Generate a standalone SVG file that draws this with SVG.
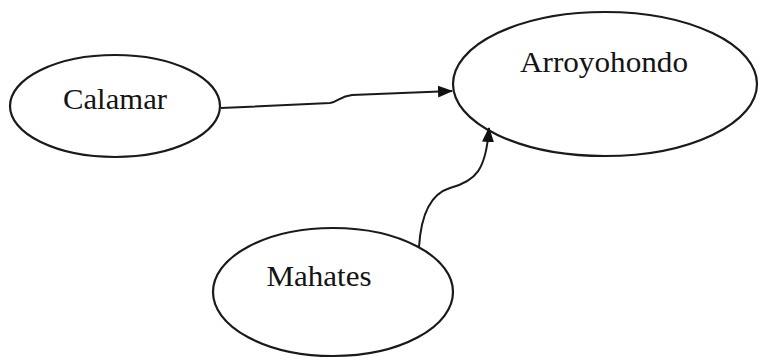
<svg xmlns="http://www.w3.org/2000/svg" width="762" height="358" viewBox="0 0 762 358">
<style>
.node ellipse{fill:#fff;stroke:#1a1a1a;stroke-width:2.2}
.node text{font-family:"Liberation Serif","Times New Roman",serif;font-size:30px;fill:#141414;text-anchor:middle}
.edge{fill:none;stroke:#1a1a1a;stroke-width:2;marker-end:url(#arr)}
</style>
<defs>
<marker id="arr" viewBox="0 0 15 12" refX="14" refY="6" markerWidth="15" markerHeight="12" markerUnits="userSpaceOnUse" orient="auto">
<path d="M0,0 L15,6 L0,12 Z" fill="#111"/>
</marker>
</defs>
<rect width="762" height="358" fill="#fff"/>
<g id="calamar" class="node">
<ellipse cx="115" cy="106" rx="105" ry="51"/>
<text x="115" y="109" textLength="104" lengthAdjust="spacingAndGlyphs">Calamar</text>
</g>
<g id="arroyohondo" class="node">
<ellipse cx="605" cy="84" rx="152" ry="72"/>
<text x="604" y="72" textLength="168" lengthAdjust="spacingAndGlyphs">Arroyohondo</text>
</g>
<g id="mahates" class="node">
<ellipse cx="333" cy="292" rx="120" ry="64"/>
<text x="319" y="286" textLength="105" lengthAdjust="spacingAndGlyphs">Mahates</text>
</g>
<g id="connectors">
<path class="edge" d="M221,108 L330,103 C338,102 340,96 352,95 L452,91"/>
<path class="edge" d="M419,247 C421,215 430,194 450,188 C476,181 486,170 489,128"/>
</g>
</svg>
